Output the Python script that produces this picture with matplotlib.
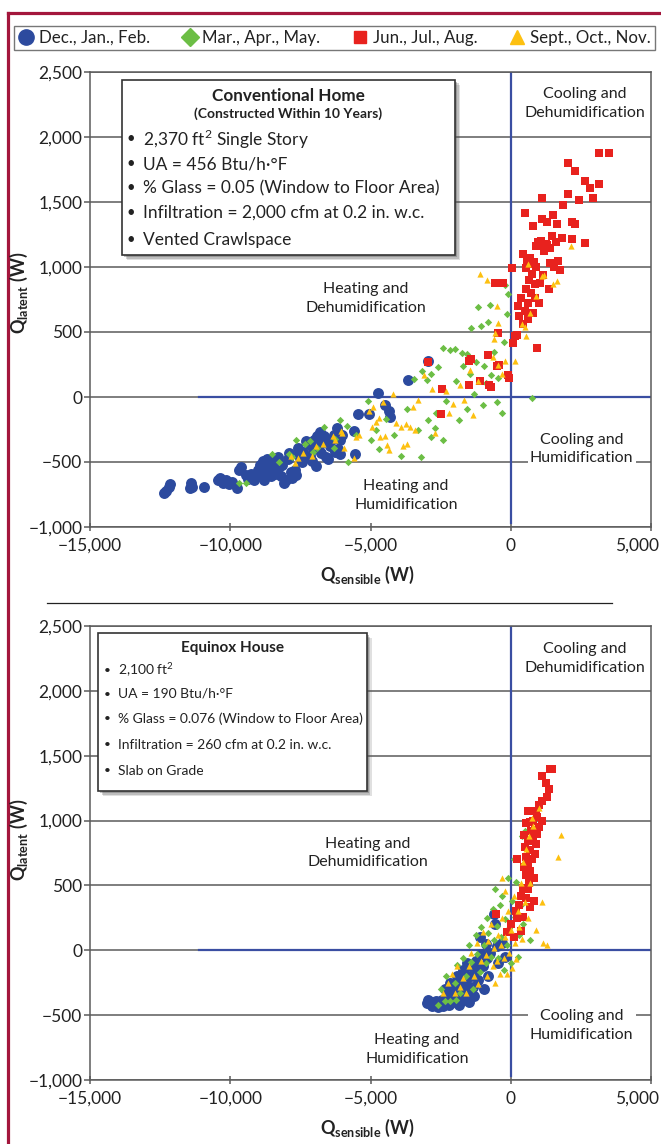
import numpy as np
import matplotlib
matplotlib.use("Agg")
import matplotlib.pyplot as plt
from matplotlib.patches import Rectangle
from matplotlib.lines import Line2D
from matplotlib.ticker import FuncFormatter
from matplotlib.transforms import ScaledTranslation

plt.rcParams['font.family'] = ['Lato', 'DejaVu Sans']
plt.rcParams['mathtext.fontset'] = 'custom'
plt.rcParams['mathtext.rm'] = 'Lato'
plt.rcParams['mathtext.bf'] = 'Lato:bold'

W, H = 661, 1144

# season names / styles
seasons = ["Dec., Jan., Feb.", "Mar., Apr., May.", "Jun., Jul., Aug.", "Sept., Oct., Nov."]
colors = ['#2c4a9e', '#6cbe45', '#e8221e', '#fdc010']
markers = ['o', 'D', 's', '^']

# ---- Conventional home (Q_sensible, Q_latent) in W
conv_winter = np.array([
    (-12350, -740), (-12300, -720), (-12200, -690), (-12150, -670),
    (-11450, -700), (-11400, -660), (-11350, -690), (-10950, -690),
    (-10450, -640), (-10350, -620), (-10250, -660), (-10150, -640), (-10050, -670),
    (-9950, -650), (-9750, -700), (-9700, -560), (-9600, -540), (-9450, -600),
    (-9350, -630), (-9250, -590), (-9150, -640), (-9050, -610), (-9000, -560),
    (-8950, -520), (-8900, -600), (-8850, -490), (-8800, -640), (-8750, -550),
    (-8700, -480), (-8650, -580), (-8600, -520), (-8550, -610), (-8500, -490),
    (-8450, -550), (-8400, -590), (-8350, -500), (-8300, -460), (-8250, -540),
    (-8200, -610), (-8150, -520), (-8100, -660), (-8000, -640), (-7950, -480),
    (-7900, -430), (-7850, -580), (-7800, -620), (-7700, -560), (-7650, -600),
    (-7600, -390), (-7550, -430), (-7500, -470), (-7450, -500), (-7400, -420),
    (-7350, -460), (-7300, -340), (-7200, -360), (-7150, -450), (-7100, -490),
    (-7050, -400), (-7000, -330), (-6950, -530), (-6900, -300), (-6850, -380),
    (-6800, -270), (-6750, -430), (-6700, -340), (-6650, -300), (-6600, -460),
    (-6500, -480), (-6450, -380), (-6400, -330), (-6300, -290), (-6250, -420),
    (-6200, -240), (-6150, -400), (-6100, -330), (-6100, -440), (-6000, -290),
    (-5600, -260), (-5550, -440), (-5450, -130), (-5050, -130), (-4750, 30),
    (-4500, -60), (-4350, -110), (-4300, -150), (-3650, 130), (-2950, 280),
])
conv_spring = np.array([
    (-9700, -660), (-9450, -660), (-8500, -440), (-8250, -500), (-7900, -440),
    (-7800, -460), (-7650, -330), (-7350, -360), (-7150, -340), (-7050, -420),
    (-6900, -390), (-6650, -230), (-6300, -390), (-6250, -320), (-6100, -180),
    (-5850, -220), (-5800, -500), (-5500, -290), (-5100, -30), (-5000, -330),
    (-4800, -250), (-4700, -400), (-4450, -170), (-4150, -290), (-3900, -450),
    (-3700, -90), (-3450, 140), (-3300, -250), (-3200, -460), (-3150, 200),
    (-3000, 130), (-2950, -180), (-2850, -310), (-2850, 180), (-2700, -240),
    (-2650, -120), (-2600, 230), (-2400, -330), (-2400, 380), (-2300, -30),
    (-2150, 360), (-2000, 370), (-1950, 120), (-1850, -180), (-1750, 340),
    (-1700, 240), (-1550, -90), (-1550, 330), (-1450, 180), (-1400, 530),
    (-1300, 20), (-1250, 270), (-1150, 690), (-1050, 550), (-1000, -60),
    (-950, 240), (-900, 110), (-800, 580), (-750, 710), (-700, 170),
    (-600, 350), (-500, -40), (-450, 150), (-300, -120), (-250, 420),
    (-200, 860), (-150, 640), (-100, 790), (750, -10),
])
conv_summer = np.array([
    (-2950, 270), (-2450, 60), (-2500, -130), (-1500, 280), (-1500, 90),
    (-1400, 290), (-1100, 120), (-800, 320), (-780, 90), (-700, 80),
    (-500, 240), (-450, 490), (-420, 250), (-100, 170), (-50, 150),
    (-570, 880), (-290, 880), (30, 990), (140, 470), (70, 415), (230, 480),
    (250, 700), (300, 620), (380, 760), (430, 1100), (450, 560), (500, 1415),
    (520, 660), (540, 830), (560, 990), (580, 1050), (600, 720), (620, 600),
    (650, 900), (680, 1020), (700, 1070), (720, 800), (750, 950), (780, 1315),
    (800, 650), (820, 1040), (850, 760), (870, 870), (900, 1000), (930, 380),
    (970, 1190), (1000, 720), (1030, 1160), (1050, 880), (1080, 1200),
    (1100, 1530), (1120, 1370), (1150, 940), (1200, 1120), (1280, 1350),
    (1300, 1170), (1350, 830), (1400, 1030), (1460, 1240), (1500, 1400),
    (1550, 1000), (1600, 1190), (1640, 1330), (1700, 1050), (1750, 980),
    (1820, 1220), (1850, 1480), (2030, 1800), (2030, 1560), (2170, 1350),
    (2170, 1215), (2280, 1740), (2280, 1330), (2420, 1515), (2640, 1660),
    (2640, 1185), (2810, 1610), (2920, 1530), (3130, 1640), (3130, 1880),
    (3490, 1880), (1250, 1180), (1400, 1150), (900, 1160),
])
conv_fall = np.array([
    (-7850, -450), (-7700, -510), (-7600, -470), (-7400, -430), (-7100, -450),
    (-6950, -380), (-6700, -360), (-6350, -300), (-6250, -330), (-6050, -260),
    (-6000, -280), (-5950, -390), (-5600, -470), (-5500, -310), (-5400, -290),
    (-5050, -110), (-4950, -230), (-4900, -80), (-4800, -190), (-4700, -160),
    (-4650, -310), (-4550, -40), (-4500, -300), (-4400, -370), (-4350, -410),
    (-4200, 20), (-4100, -200), (-3900, -230), (-3850, -380), (-3750, -210),
    (-3700, -360), (-3600, -230), (-3500, -80), (-3400, -250), (-3300, -20),
    (-3100, 170), (-2800, 60), (-2700, -280), (-2300, 50), (-2200, -120),
    (-2050, -50), (-1800, 90), (-1650, -20), (-1450, 210), (-1350, -140),
    (-1150, 120), (-1100, 950), (-850, 900), (-650, 310), (-600, 450),
    (-550, 490), (-500, 700), (-450, 570), (-450, 250), (-300, 180),
    (-200, 280), (150, 280), (400, 560), (550, 470), (520, 540), (600, 1020),
    (700, 650), (1100, 930), (1200, 940), (1500, 870), (1650, 890),
    (2150, 1160), (900, 780),
])

# ---- Equinox house
eq_winter = np.array([
    (-3000, -410), (-2950, -380), (-2850, -400), (-2800, -430), (-2700, -420),
    (-2650, -390), (-2600, -440), (-2500, -410), (-2450, -380), (-2400, -430),
    (-2350, -300), (-2300, -400), (-2250, -360), (-2200, -420), (-2150, -250),
    (-2100, -380), (-2050, -330), (-2000, -400), (-1950, -280), (-1900, -350),
    (-1900, -200), (-1850, -420), (-1800, -230), (-1750, -300), (-1700, -380),
    (-1700, -150), (-1650, -180), (-1600, -250), (-1550, -320), (-1550, -100),
    (-1500, -400), (-1450, -120), (-1400, -200), (-1350, -280), (-1300, -350),
    (-1250, -80), (-1200, -150), (-1150, -230), (-1100, 100), (-1050, -30),
    (-1000, -120), (-950, -300), (-900, 50), (-850, -60), (-800, -200),
    (-750, -20), (-600, 280), (-550, 200), (-500, 30), (-450, -100),
    (-300, 60), (-200, -50),
])
eq_spring = np.array([
    (-2600, -420), (-2500, -300), (-2350, -390), (-2300, -200), (-2150, -390),
    (-2000, -250), (-1950, -380), (-1900, -110), (-1800, -330), (-1700, -60),
    (-1600, -200), (-1500, 40), (-1400, -90), (-1350, -300), (-1250, 120),
    (-1200, -30), (-1100, -170), (-1050, 180), (-950, 40), (-900, -100),
    (-850, 250), (-800, 130), (-700, -50), (-650, 320), (-600, 80),
    (-550, 470), (-500, 190), (-450, -60), (-400, 350), (-350, 100),
    (-300, 420), (-250, -150), (-200, 240), (-150, 40), (-100, 560),
    (-50, 170), (0, -100), (50, 380), (100, 700), (150, 260), (200, 530),
    (250, -50), (300, 120), (350, 350), (400, 880), (450, 200), (500, 920),
    (700, 80),
])
eq_summer = np.array([
    (1480, 1400), (1400, 1400), (1130, 1340), (1250, 1290), (1360, 1240),
    (1300, 1180), (1130, 1150), (1010, 1120), (890, 1070), (600, 1070),
    (950, 1030), (800, 1000), (680, 990), (560, 980), (1000, 950), (850, 930),
    (720, 920), (480, 890), (780, 860), (620, 840), (900, 820), (500, 800),
    (700, 770), (850, 740), (560, 720), (240, 700), (760, 700), (620, 670),
    (480, 640), (700, 610), (560, 580), (820, 560), (650, 520), (450, 480),
    (380, 420), (560, 400), (820, 380), (300, 350), (700, 330), (200, 300),
    (-530, 280), (230, 250), (0, 200), (-120, 140), (450, 260), (350, 150),
    (100, 100), (600, 470), (950, 900), (1100, 1000),
])
eq_fall = np.array([
    (-2400, -330), (-2250, -250), (-2100, -180), (-2000, -330), (-1900, -120),
    (-1800, -280), (-1700, -210), (-1600, -330), (-1500, -120), (-1400, -20),
    (-1300, -200), (-1200, 60), (-1150, -260), (-1050, -80), (-1000, 140),
    (-900, -40), (-850, -200), (-800, 70), (-700, 200), (-650, -120),
    (-600, 20), (-550, -250), (-500, -80), (-450, 120), (-400, -180),
    (-350, 40), (-300, 250), (-250, -60), (-200, 100), (-150, -180),
    (-100, 300), (-50, -20), (0, 160), (50, -140), (100, 420), (150, 60),
    (200, -70), (250, 300), (300, 180), (350, 520), (400, 90), (450, 680),
    (500, 370), (550, 780), (600, 250), (650, 880), (700, 520), (750, 1020),
    (800, 960), (900, 160), (1000, 1100), (1100, 370), (1150, 60), (1300, 40),
    (1700, 720), (1800, 890), (-300, 560), (-200, 460),
])

conv_box = ["2,370 ft$^2$ Single Story", "UA = 456 Btu/h·°F",
            "% Glass = 0.05 (Window to Floor Area)",
            "Infiltration = 2,000 cfm at 0.2 in. w.c.", "Vented Crawlspace"]
eq_box = ["2,100 ft$^2$", "UA = 190 Btu/h·°F",
          "% Glass = 0.076 (Window to Floor Area)",
          "Infiltration = 260 cfm at 0.2 in. w.c.", "Slab on Grade"]

x_ticks = [-15000, -10000, -5000, 0, 5000]
y_ticks = [-1000, -500, 0, 500, 1000, 1500, 2000, 2500]

GRID = '#5b5b5b'
LINE_BLUE = '#3a4ea2'
TXT = '#222222'


def fx(px):
    return px / W


def fy(py):
    return 1 - py / H


def fmt(v, pos):
    s = f"{abs(v):,.0f}"
    return ('\u2212' + s) if v < 0 else s


def panel(ax, sets, labels):
    ax.set_xlim(-15000, 5000)
    ax.set_ylim(-1000, 2500)
    ax.set_xticks(x_ticks)
    ax.set_yticks(y_ticks)
    ax.xaxis.set_major_formatter(FuncFormatter(fmt))
    ax.yaxis.set_major_formatter(FuncFormatter(fmt))
    ax.grid(axis='y', color=GRID, lw=1.1, zorder=0)
    ax.set_axisbelow(True)
    for s in ax.spines.values():
        s.set_color(GRID)
        s.set_linewidth(1.1)
    ax.tick_params(axis='y', length=4, width=1.1, color=GRID, labelsize=12.5,
                   pad=1.5, labelcolor=TXT)
    ax.tick_params(axis='x', length=6, width=1.1, color=GRID, direction='inout',
                   labelsize=12.5, pad=5, labelcolor=TXT)
    # last x label sits left of its tick, as in the original
    last = ax.xaxis.get_major_ticks()[-1].label1
    last.set_horizontalalignment('right')
    last.set_transform(last.get_transform() +
                       ScaledTranslation(8 / 100, 0, ax.figure.dpi_scale_trans))
    ax.plot([-11100, 5000], [0, 0], color=LINE_BLUE, lw=1.6, zorder=1)
    ax.plot([0, 0], [-970, 2500], color=LINE_BLUE, lw=1.6, zorder=1)
    sizes = [62, 14, 28, 20]
    for i in [0, 1, 2, 3]:
        d = sets[i]
        ax.scatter(d[:, 0], d[:, 1], s=sizes[i], c=colors[i], marker=markers[i],
                   linewidths=0, zorder=3 + i)
    for (x, y, t, bg) in labels:
        kw = {}
        if bg:
            kw['bbox'] = dict(facecolor='white', edgecolor='none', pad=1.5)
        ax.text(x, y, t, ha='center', va='center', fontsize=11.5,
                linespacing=1.45, color=TXT, zorder=8, **kw)


def info_box(fig, left, top, right, bottom, title, sub, lines, ys, bx, tx,
             ty_title, ty_sub, fs_title, fs_sub, fs):
    for off, a in [(5, 0.18), (3.5, 0.25), (2, 0.35)]:
        fig.patches.append(Rectangle((fx(left + off), fy(bottom + off)),
                                     (right - left) / W, (bottom - top) / H,
                                     transform=fig.transFigure, facecolor='#555555',
                                     edgecolor='none', alpha=a, zorder=9))
    fig.patches.append(Rectangle((fx(left), fy(bottom)), (right - left) / W,
                                 (bottom - top) / H, transform=fig.transFigure,
                                 facecolor='white', edgecolor='#333333', lw=1.2,
                                 zorder=10))
    cx = (left + right) / 2
    fig.text(fx(cx), fy(ty_title), title, ha='center', va='center',
             fontsize=fs_title, fontweight='bold', color=TXT, zorder=11)
    if sub:
        fig.text(fx(cx), fy(ty_sub), sub, ha='center', va='center',
                 fontsize=fs_sub, fontweight='bold', color=TXT, zorder=11)
    for t, y in zip(lines, ys):
        fig.text(fx(bx), fy(y), '•', ha='center', va='center', fontsize=fs * 0.85,
                 color=TXT, zorder=11)
        fig.text(fx(tx), fy(y), t, ha='left', va='center', fontsize=fs,
                 color=TXT, zorder=11)


fig = plt.figure(figsize=(W / 100, H / 100), dpi=100)
fig.patch.set_facecolor('white')

ax1 = fig.add_axes([fx(90), fy(527), 561 / W, (527 - 72) / H])
ax2 = fig.add_axes([fx(90), fy(1080), 561 / W, (1080 - 626) / H])

panel(ax1, [conv_winter, conv_spring, conv_summer, conv_fall], [
    (2630, 2255, "Cooling and\nDehumidification", False),
    (-5160, 755, "Heating and\nDehumidification", False),
    (2530, -400, "Cooling and\nHumidification", True),
    (-3740, -757, "Heating and\nHumidification", False),
])
panel(ax2, [eq_winter, eq_spring, eq_summer, eq_fall], [
    (2630, 2252, "Cooling and\nDehumidification", False),
    (-5090, 750, "Heating and\nDehumidification", False),
    (2530, -577, "Cooling and\nHumidification", True),
    (-3350, -766, "Heating and\nHumidification", False),
])

# axis labels
for yc, xc in [(293, 575), (840, 1128)]:
    fig.text(fx(19), fy(yc), 'Q$_{\\mathbf{latent}}$ (W)', rotation=90,
             ha='center', va='center', fontsize=13, fontweight='bold', color=TXT)
    fig.text(fx(367), fy(xc), 'Q$_{\\mathbf{sensible}}$ (W)', ha='center',
             va='center', fontsize=13, fontweight='bold', color=TXT)

info_box(fig, 122, 80, 455, 255, "Conventional Home",
         "(Constructed Within 10 Years)", conv_box,
         [139, 164, 188, 213, 240], 131, 143, 96, 114, 12.3, 10, 12.5)
info_box(fig, 98, 633, 367, 791, "Equinox House", None, eq_box,
         [670, 694, 719, 745, 771], 107, 118, 648, None, 11, None, 10)

# legend
handles = [Line2D([], [], marker=m, color=c, linestyle='', markersize=ms)
           for m, c, ms in zip(markers, colors, [11, 9.5, 9, 10.5])]
leg = fig.legend(handles, seasons, loc='lower left', ncol=4, mode='expand',
                 bbox_to_anchor=(fx(14), fy(50), 641 / W, 27 / H),
                 frameon=True, fancybox=False, edgecolor='#555555',
                 fontsize=12.2, handlelength=0.9, handletextpad=0.3,
                 columnspacing=1.0, borderpad=0.25, borderaxespad=0)
leg.get_frame().set_linewidth(1.0)
for t in leg.get_texts():
    t.set_color(TXT)

# separator and red frame
fig.add_artist(Line2D([fx(47), fx(612)], [fy(603), fy(603)], color=TXT, lw=0.9))
fig.add_artist(Line2D([fx(8), fx(8)], [fy(13), 0], color='#a3163c', lw=2.3))
fig.add_artist(Line2D([fx(8), 1], [fy(13), fy(13)], color='#a3163c', lw=2.3))

fig.savefig('out.png', dpi=100)
